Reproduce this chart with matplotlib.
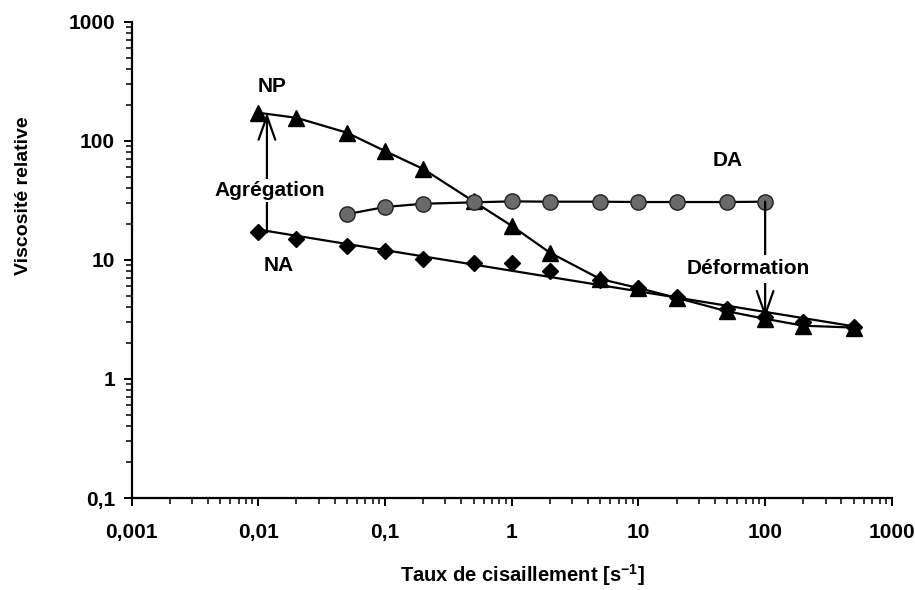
import numpy as np
import matplotlib
matplotlib.use("Agg")
import matplotlib.pyplot as plt
from matplotlib.ticker import LogLocator, NullFormatter

# shear rates [1/s]
shear = [0.01, 0.02, 0.05, 0.1, 0.2, 0.5, 1, 2, 5, 10, 20, 50, 100, 200, 500]
np_visc = [172, 156, 117, 82, 58, 31, 19.3, 11.5, 6.9, 5.8, 4.8, 3.7, 3.2, 2.8, 2.7]
na_visc = [17, 15, 13.1, 11.9, 10.1, 9.4, 9.4, 8.0, 6.8, 5.8, 4.9, 3.9, 3.3, 3.0, 2.75]

da_shear = [0.05, 0.1, 0.2, 0.5, 1, 2, 5, 10, 20, 50, 100]
da_visc = [24.2, 27.8, 29.6, 30.4, 31, 30.8, 30.8, 30.6, 30.6, 30.6, 30.8]

xticks = [0.001, 0.01, 0.1, 1, 10, 100, 1000]
xlabels = ["0,001", "0,01", "0,1", "1", "10", "100", "1000"]
yticks = [0.1, 1, 10, 100, 1000]
ylabels = ["0,1", "1", "10", "100", "1000"]


def main():
    plt.rcParams["font.family"] = ["Liberation Sans", "DejaVu Sans"]
    plt.rcParams["font.weight"] = "bold"
    plt.rcParams["mathtext.fontset"] = "custom"
    plt.rcParams["mathtext.bf"] = "Liberation Sans:bold"
    plt.rcParams["mathtext.rm"] = "Liberation Sans:bold"
    plt.rcParams["mathtext.default"] = "bf"

    fig = plt.figure(figsize=(9.15, 5.9), dpi=100)
    ax = fig.add_axes([0.1438, 0.1559, 0.8309, 0.8073])

    # NA: points + power trend line (fit in log-log)
    coef = np.polyfit(np.log10(shear), np.log10(na_visc), 1)
    xs = np.array([shear[0], shear[-1]])
    ax.plot(xs, 10 ** np.polyval(coef, np.log10(xs)), color="black", lw=1.6, zorder=2)
    ax.plot(shear, na_visc, ls="none", marker="D", ms=8, color="black", zorder=3)

    ax.plot(shear, np_visc, color="black", lw=1.6, marker="^", ms=11, zorder=3)
    ax.plot(da_shear, da_visc, color="black", lw=1.6, marker="o", ms=11,
            markerfacecolor="#6a6a6a", markeredgecolor="#222222", zorder=3)

    arrow = dict(arrowstyle="->,head_length=1.7,head_width=0.6", color="black", lw=1.6,
                 shrinkA=0, shrinkB=0)
    # Agrégation arrow: NA -> NP at low shear
    ax.annotate("", xy=(0.0117, 172), xytext=(0.0117, 17), arrowprops=arrow, zorder=4)
    ax.text(0.0123, 38, "Agrégation", ha="center", va="center", fontsize=15, fontweight="bold",
            bbox=dict(facecolor="white", edgecolor="none", pad=1.5), zorder=5)
    # Déformation arrow: DA -> NP at 100 1/s
    ax.annotate("", xy=(100, 3.25), xytext=(100, 30.8), arrowprops=arrow, zorder=4)
    ax.text(73, 8.4, "Déformation", ha="center", va="center", fontsize=15, fontweight="bold",
            bbox=dict(facecolor="white", edgecolor="none", pad=3), zorder=5)

    ax.text(0.0128, 288, "NP", ha="center", va="center", fontsize=15, fontweight="bold")
    ax.text(0.0144, 8.9, "NA", ha="center", va="center", fontsize=15, fontweight="bold")
    ax.text(51, 68, "DA", ha="center", va="center", fontsize=15, fontweight="bold")

    ax.set_xscale("log")
    ax.set_yscale("log")
    ax.set_xlim(0.001, 1000)
    ax.set_ylim(0.1, 1000)
    ax.set_xticks(xticks)
    ax.set_xticklabels(xlabels)
    ax.set_yticks(yticks)
    ax.set_yticklabels(ylabels)
    ax.xaxis.set_minor_locator(LogLocator(base=10, subs=np.arange(2, 10), numticks=20))
    ax.yaxis.set_minor_locator(LogLocator(base=10, subs=np.arange(2, 10), numticks=20))
    ax.xaxis.set_minor_formatter(NullFormatter())
    ax.yaxis.set_minor_formatter(NullFormatter())
    ax.tick_params(which="major", length=6, width=1.4, labelsize=15)
    ax.tick_params(axis="x", which="major", pad=12)
    ax.tick_params(axis="y", which="major", pad=6)
    ax.tick_params(which="minor", length=4, width=1.1)
    for side in ["top", "right"]:
        ax.spines[side].set_visible(False)
    for side in ["left", "bottom"]:
        ax.spines[side].set_linewidth(1.6)

    ax.set_xlabel(r"Taux de cisaillement [s$^{-1}$]", fontsize=14.5, fontweight="bold")
    ax.set_ylabel("Viscosité relative", fontsize=14, fontweight="bold")
    ax.xaxis.set_label_coords(0.514, -0.134)
    ax.yaxis.set_label_coords(-0.131, 0.634)

    fig.savefig("out.png", dpi=100)


if __name__ == "__main__":
    main()
